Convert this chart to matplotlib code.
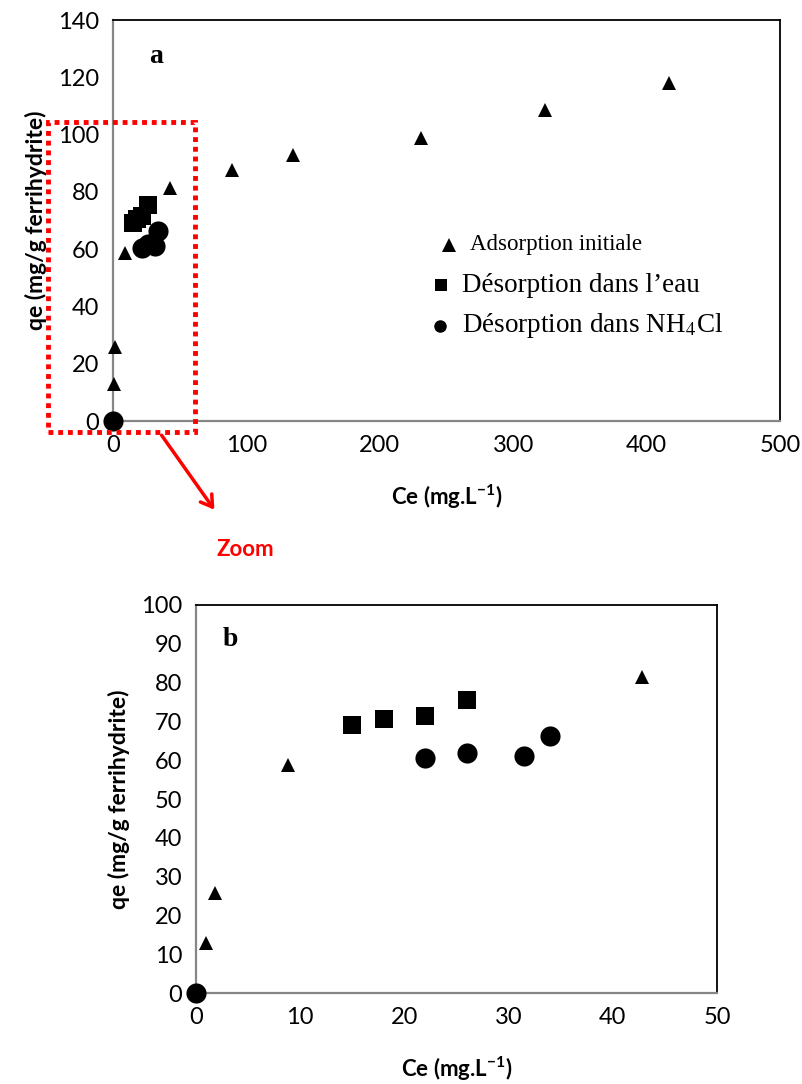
import matplotlib
matplotlib.use('Agg')
import matplotlib.pyplot as plt
from matplotlib.patches import Rectangle, FancyArrowPatch

plt.rcParams['font.family'] = ['Lato', 'DejaVu Sans']
plt.rcParams['mathtext.fontset'] = 'custom'
plt.rcParams['mathtext.rm'] = 'Lato'
plt.rcParams['mathtext.bf'] = 'Lato:bold'

# adsorption initiale
ads_ce = [1.0, 1.8, 8.8, 42.8, 89, 135, 231, 324, 417]
ads_qe = [12.8, 25.8, 58.8, 81.5, 87.6, 93.0, 98.8, 108.5, 118.0]
# désorption dans l'eau
eau_ce = [15.0, 18.0, 22.0, 26.0]
eau_qe = [69.2, 70.5, 71.5, 75.5]
# désorption dans NH4Cl
nh4_ce = [0.0, 22.0, 26.0, 31.5, 34.0]
nh4_qe = [0.0, 60.5, 61.8, 61.1, 66.2]

fig = plt.figure(figsize=(8.02, 10.84), dpi=100)
ax1 = fig.add_axes([0.1409, 0.6116, 0.8317, 0.3699])
ax2 = fig.add_axes([0.2444, 0.0839, 0.6496, 0.3580])


def draw(ax, xmax, xstep, ymax, ystep, letter):
    ax.plot(ads_ce, ads_qe, ls='none', marker='^', ms=10.5, color='black', mew=0, clip_on=False, zorder=3)
    ax.plot(eau_ce, eau_qe, ls='none', marker='s', ms=13.5, color='black', mew=0, clip_on=False, zorder=3)
    ax.plot(nh4_ce, nh4_qe, ls='none', marker='o', ms=14.5, color='black', mew=0, clip_on=False, zorder=4)
    ax.set_xlim(0, xmax)
    ax.set_ylim(0, ymax)
    ax.set_xticks(range(0, xmax + 1, xstep))
    ax.set_yticks(range(0, ymax + 1, ystep))
    ax.tick_params(length=0, labelsize=17, pad=10)
    for s in ['left', 'bottom']:
        ax.spines[s].set_color('#868686')
        ax.spines[s].set_linewidth(1.6)
    for s in ['top', 'right']:
        ax.spines[s].set_color('black')
        ax.spines[s].set_linewidth(1.3)
    ax.set_xlabel(r'Ce (mg.L$^{\mathbf{-1}}$)', fontsize=16, fontweight='bold', labelpad=19)
    ax.set_ylabel('qe (mg/g ferrihydrite)', fontsize=16.5, fontweight='bold', labelpad=8)
    ax.text(0.065, 0.91, letter, transform=ax.transAxes, fontsize=20, fontweight='bold',
            family='Liberation Serif', va='center', ha='center')


draw(ax1, 500, 100, 140, 20, 'a')
draw(ax2, 50, 10, 100, 10, 'b')

# legend drawn as text, like the original
leg = [('^', 10.5, 'Adsorption initiale', 16.5, 0.504, 0.439, 0.031),
       ('s', 8, "Désorption dans l’eau", 19.5, 0.492, 0.339, 0.031),
       ('o', 9, r'Désorption dans NH$_4$Cl', 19.5, 0.490, 0.237, 0.033)]
for m, ms, txt, fs, x, y, dx in leg:
    ax1.plot([x], [y], marker=m, ms=ms, color='black', mew=0, transform=ax1.transAxes, clip_on=False)
    ax1.text(x + dx, y, txt, transform=ax1.transAxes, fontsize=fs, va='center', ha='left',
             family='Liberation Serif', math_fontfamily='stix')

# zoom box and arrow
fig.patches.append(Rectangle((48 / 802, 1 - 432 / 1084), 147 / 802, 310 / 1084, transform=fig.transFigure,
                             fill=False, edgecolor='red', lw=3.5, ls=(0, (1, 1)), zorder=10))
fig.add_artist(FancyArrowPatch((160 / 802, 1 - 433 / 1084), (216 / 802, 1 - 512 / 1084),
                               transform=fig.transFigure, arrowstyle='->,head_length=8,head_width=5',
                               color='red', lw=2.5, mutation_scale=1))
fig.text(245 / 802, 1 - 549 / 1084, 'Zoom', color='red', fontsize=16, fontweight='bold', ha='center', va='center')

fig.savefig('out.png', dpi=100)
